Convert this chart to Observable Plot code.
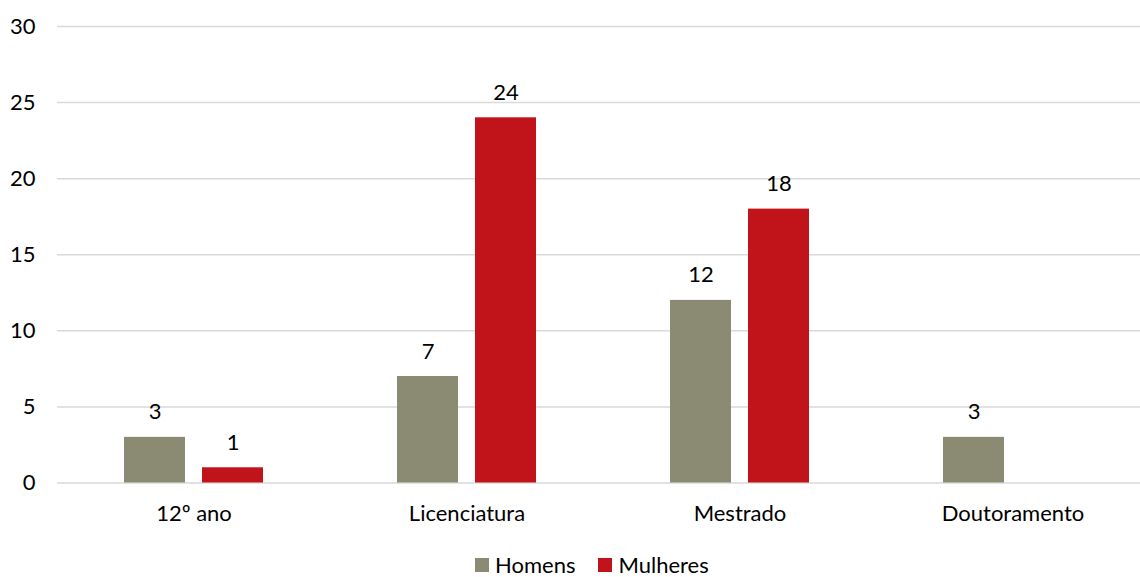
<!DOCTYPE html>
<html>
<head>
<meta charset="utf-8">
<script src="https://cdn.jsdelivr.net/npm/d3@7"></script>
<script src="https://cdn.jsdelivr.net/npm/@observablehq/plot@0.6"></script>
<style>
  html, body { margin: 0; padding: 0; background: #fff; overflow: hidden; }
  #chart svg { max-width: none !important; }
  #legend { display: flex; align-items: center; margin-left: 475px; margin-top: 12px;
            font-family: Lato, sans-serif; font-size: 22px; color: #000; line-height: 26px; }
  .item { display: flex; align-items: center; margin-right: 23px; }
  .sw { width: 14px; height: 14px; margin-right: 6px; }
</style>
</head>
<body>
<div id="chart"></div>
<div id="legend"></div>
<script>
const categories = ["12º ano", "Licenciatura", "Mestrado", "Doutoramento"];
const series = ["Homens", "Mulheres"];
const homens = [3, 7, 12, 3];
const mulheres = [1, 24, 18, 0];
const yTicks = [0, 5, 10, 15, 20, 25, 30];
const colors = ["#8B8A72", "#C0141A"];

const values = [homens, mulheres];
const data = categories.flatMap((c, i) =>
  series.map((s, j) => ({cat: c, s, v: values[j][i]}))
);

const chart = Plot.plot({
  width: 1150,
  height: 540,
  marginLeft: 57,
  marginRight: 1,
  marginTop: 26,
  marginBottom: 57.5,
  style: {fontFamily: "Lato, sans-serif", fontSize: "22px", color: "#000", background: "#fff", maxWidth: "none"},
  fx: {domain: categories, padding: 0, label: null, axis: "bottom", tickSize: 0, tickPadding: 22},
  x: {domain: series, paddingInner: 0.218, paddingOuter: 0.859, axis: null},
  y: {domain: [0, 30], ticks: yTicks, tickSize: 0, tickPadding: 22, label: null},
  color: {domain: series, range: colors},
  marks: [
    Plot.ruleY(yTicks, {stroke: "#d9d9d9", strokeWidth: 1.5}),
    Plot.barY(data, {fx: "cat", x: "s", y: "v", fill: "s"}),
    Plot.text(data.filter(d => d.v > 0), {fx: "cat", x: "s", y: "v", text: d => String(d.v), dy: -25, fill: "#000"})
  ]
});
document.getElementById("chart").append(chart);

const legend = document.getElementById("legend");
series.forEach((s, i) => {
  const it = document.createElement("div");
  it.className = "item";
  const sw = document.createElement("span");
  sw.className = "sw";
  sw.style.background = colors[i];
  const t = document.createElement("span");
  t.textContent = s;
  it.append(sw, t);
  legend.append(it);
});
</script>
</body>
</html>
